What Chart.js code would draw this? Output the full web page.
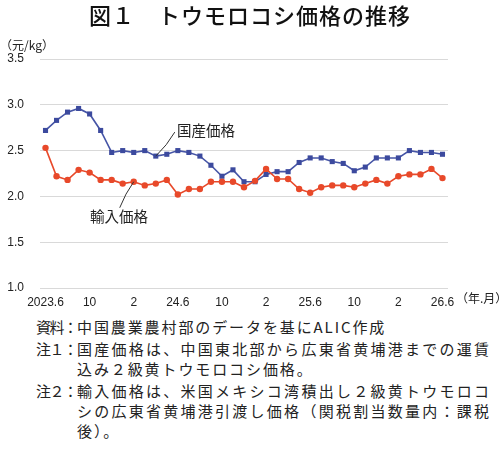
<!DOCTYPE html>
<html>
<head>
<meta charset="utf-8">
<script src="https://cdn.jsdelivr.net/npm/chart.js@4/dist/chart.umd.min.js"></script>
<style>
  body { margin: 0; background: #fff; }
  #wrap { position: relative; width: 500px; height: 455px; overflow: hidden; font-family: "Noto Sans CJK JP", sans-serif; color: #222; }
  #chart { position: absolute; left: 0; top: 0; }
  .t { position: absolute; white-space: nowrap; line-height: 1; }
  .title { left: 0; width: 500px; top: 3px; text-align: center; font-size: 22px; font-weight: 500; letter-spacing: 1px; color: #111; }
  .unit { left: 0; top: 39px; font-size: 12px; }
  .xunit { left: 456px; top: 292px; font-size: 12px; }
  .lab { font-size: 14.5px; }
  .note { font-size: 15px; }
  .pre { left: 36px; letter-spacing: -1.5px; }
  .body { left: 77px; letter-spacing: 1.9px; }
  .just { text-align: justify; text-align-last: justify; width: 412px; letter-spacing: 0; }
</style>
</head>
<body>
<div id="wrap">
  <canvas id="chart" width="500" height="312"></canvas>
  <div class="t title">図１　トウモロコシ価格の推移</div>
  <div class="t unit">（元/kg）</div>
  <div class="t xunit">（年.月）</div>
  <div class="t lab" style="left:177px; top:123px;">国産価格</div>
  <div class="t lab" style="left:90px; top:209px;">輸入価格</div>

  <div class="t note pre" style="top:319px;">資料：</div>
  <div class="t note body" style="top:319px;">中国農業農村部のデータを基にALIC作成</div>
  <div class="t note pre" style="top:341px;">注１：</div>
  <div class="t note body just" style="top:341px;">国産価格は、中国東北部から広東省黄埔港までの運賃</div>
  <div class="t note body" style="top:361px;">込み２級黄トウモロコシ価格。</div>
  <div class="t note pre" style="top:383px;">注２：</div>
  <div class="t note body just" style="top:383px;">輸入価格は、米国メキシコ湾積出し２級黄トウモロコ</div>
  <div class="t note body just" style="top:403px;">シの広東省黄埔港引渡し価格（関税割当数量内：課税</div>
  <div class="t note body" style="top:423px;">後）。</div>
</div>
<script>
// 2023.6 - 2026.6 monthly
const months = [
  '2023.6','7','8','9','10','11','12','24.1','2','3','4','5',
  '24.6','7','8','9','10','11','12','25.1','2','3','4','5',
  '25.6','7','8','9','10','11','12','26.1','2','3','4','5',
  '26.6'
];
const shownTicks = ['2023.6','10','2','24.6','10','2','25.6','10','2','26.6'];

// 国産価格 (元/kg)
const domestic = [
  2.72, 2.83, 2.92, 2.96, 2.90, 2.72, 2.48, 2.50, 2.48, 2.50, 2.44, 2.46,
  2.50, 2.48, 2.44, 2.34, 2.22, 2.29, 2.16, 2.16, 2.24, 2.27, 2.27, 2.37,
  2.42, 2.42, 2.38, 2.36, 2.28, 2.32, 2.42, 2.42, 2.42, 2.50, 2.48, 2.48,
  2.46
];
// 輸入価格 (元/kg)
const imported = [
  2.53, 2.22, 2.18, 2.29, 2.26, 2.18, 2.18, 2.14, 2.16, 2.12, 2.14, 2.18,
  2.02, 2.08, 2.08, 2.16, 2.16, 2.16, 2.10, 2.17, 2.30, 2.19, 2.19, 2.08,
  2.04, 2.10, 2.12, 2.12, 2.10, 2.14, 2.18, 2.14, 2.22, 2.24, 2.24, 2.30,
  2.20
];
const yTicks = [1.0, 1.5, 2.0, 2.5, 3.0, 3.5];

// leader lines: [dataset index, point index, dx, dy]
const leaders = [[1, 10, 19, -24], [0, 8, -14, 26]];

const leaderPlugin = {
  id: 'leaders',
  afterDatasetsDraw(chart) {
    const ctx = chart.ctx;
    ctx.save();
    ctx.strokeStyle = '#333';
    ctx.lineWidth = 1;
    leaders.forEach(([ds, idx, dx, dy]) => {
      const p = chart.getDatasetMeta(ds).data[idx];
      ctx.beginPath();
      ctx.moveTo(p.x, p.y);
      ctx.quadraticCurveTo(p.x + dx * 0.6, p.y + dy * 0.45, p.x + dx, p.y + dy);
      ctx.stroke();
    });
    ctx.restore();
  }
};

const numFont = { family: '"Liberation Sans", Arial, sans-serif', size: 12 };

new Chart(document.getElementById('chart'), {
  type: 'line',
  data: {
    labels: months,
    datasets: [{
      label: '輸入価格',
      data: imported,
      borderColor: '#e8492a',
      backgroundColor: '#e8492a',
      borderWidth: 1.6,
      pointStyle: 'circle',
      pointRadius: 3.2,
      pointBorderWidth: 0,
      tension: 0
    }, {
      label: '国産価格',
      data: domestic,
      borderColor: '#4655a6',
      backgroundColor: '#3c4a9e',
      borderWidth: 1.6,
      pointStyle: 'rect',
      pointRadius: 3.6,
      pointBorderWidth: 0,
      tension: 0
    }]
  },
  options: {
    responsive: false,
    animation: false,
    devicePixelRatio: 1,
    layout: { padding: { top: 59, right: 52, left: 0, bottom: 0 } },
    plugins: {
      legend: { display: false },
      tooltip: { enabled: false }
    },
    scales: {
      x: {
        offset: true,
        grid: { display: false, drawTicks: false },
        border: { display: false },
        afterFit(scale) { scale.height = 24; },
        ticks: {
          autoSkip: false,
          maxRotation: 0,
          padding: 7,
          color: '#222',
          font: numFont,
          callback(v, i) { return i % 4 === 0 ? shownTicks[i / 4] : ''; }
        }
      },
      y: {
        min: 1.0,
        max: 3.5,
        afterFit(scale) { scale.width = 40; },
        afterBuildTicks(scale) { scale.ticks = yTicks.map(v => ({ value: v })); },
        grid: { color: '#d9d9d9', lineWidth: 1, drawTicks: false },
        border: { display: false },
        ticks: {
          padding: 16,
          color: '#222',
          font: numFont,
          callback(v) { return v.toFixed(1); }
        }
      }
    }
  },
  plugins: [leaderPlugin]
});
</script>
</body>
</html>
